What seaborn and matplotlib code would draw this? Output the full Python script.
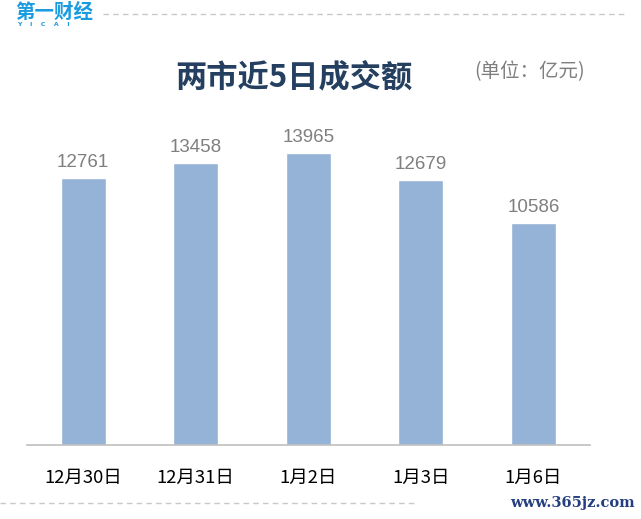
import matplotlib
matplotlib.use("Agg")
import matplotlib.pyplot as plt
import seaborn as sns
import pandas as pd
from matplotlib.lines import Line2D

# data
dates = ['12月30日', '12月31日', '1月2日', '1月3日', '1月6日']
turnover = [12761, 13458, 13965, 12679, 10586]

title = '两市近5日成交额'
unit = '(单位：亿元)'

df = pd.DataFrame({'date': dates, 'turnover': turnover})

sns.set_style('white')
plt.rcParams['font.family'] = ['Noto Sans CJK SC', 'DejaVu Sans']

fig = plt.figure(figsize=(6.41, 5.19), dpi=100)
ax = fig.add_axes([0.042, 0.1426, 0.878, 0.6454])

sns.barplot(data=df, x='date', y='turnover', color='#95b3d7', saturation=1,
            width=0.4, ax=ax)

ax.set_ylim(0, 16000)
ax.set_xlim(-0.5, len(dates) - 0.5)
ax.set_xlabel('')
ax.set_ylabel('')
ax.set_yticks([])
for s in ['left', 'right', 'top']:
    ax.spines[s].set_visible(False)
ax.spines['bottom'].set_color('#bfbfbf')
ax.spines['bottom'].set_linewidth(1.2)
ax.tick_params(axis='x', length=0, pad=17, labelsize=13.3, labelcolor='#000000')

# value labels
for p, v in zip(ax.patches, turnover):
    ax.annotate(str(v), (p.get_x() + p.get_width() / 2, p.get_height()),
                xytext=(0, 5), textcoords='offset points', ha='center',
                va='bottom', fontsize=13.5, color='#7f7f7f',
                family=['Liberation Sans', 'DejaVu Sans'])

# title and unit
fig.text(294 / 641, 1 - 77 / 519, title, ha='center', va='center',
         fontsize=22.5, fontweight='bold', color='#243f60')
fig.text(530 / 641, 1 - 72 / 519, unit, ha='center', va='center',
         fontsize=14, color='#7f7f7f')

# logo
fig.text(15 / 641, 1 - 12 / 519, '第一财经', ha='left', va='center',
         fontsize=14, fontweight='bold', color='#1a9be0')
fig.text(17 / 641, 1 - 25 / 519, 'Y    I    C    A    I', ha='left',
         va='center', fontsize=4.5, fontweight='bold', color='#1a9be0',
         family=['DejaVu Sans'])

# dashed decoration lines
fig.add_artist(Line2D([103 / 641, 625 / 641], [1 - 14 / 519, 1 - 14 / 519],
                      transform=fig.transFigure, color='#c8c8c8',
                      linestyle=(0, (4, 3)), linewidth=1))
fig.add_artist(Line2D([0, 415 / 641], [1 - 503 / 519, 1 - 503 / 519],
                      transform=fig.transFigure, color='#c8c8c8',
                      linestyle=(0, (4, 3)), linewidth=1))
fig.text(635 / 641, 1 - 503 / 519, 'www.365jz.com', ha='right', va='center',
         fontsize=10.5, color='#243f80', fontweight='bold',
         family=['DejaVu Serif'])

fig.savefig('out.png', dpi=100)
